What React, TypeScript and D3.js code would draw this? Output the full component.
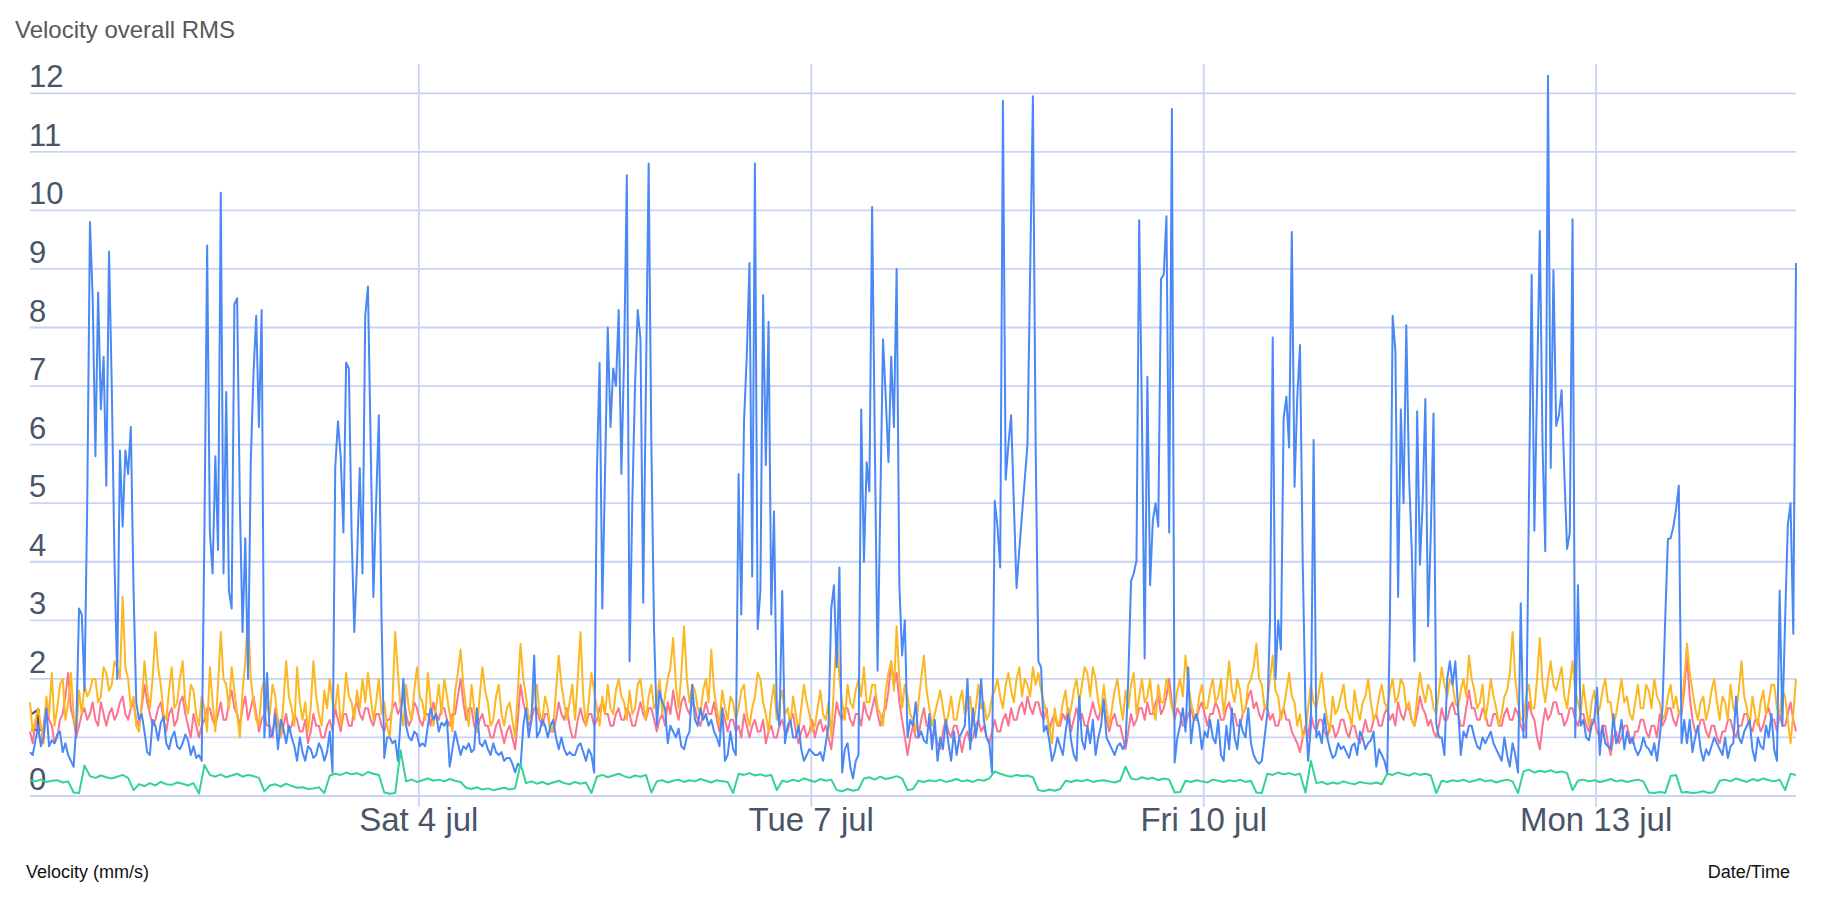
import React, { useEffect, useRef } from "react";
import * as d3 from "d3";

// first sample; every series is sampled every 30 min, except green (hourly)
const START = new Date(2020, 6, 1, 0, 40);
const HOUR = 3600 * 1000;
const SPAN_HOURS = 324;

const yTicks = [0, 1, 2, 3, 4, 5, 6, 7, 8, 9, 10, 11, 12];

const blueVelocity = [
  0.75, 0.7, 0.95, 1.2, 0.85, 1.0, 1.5, 0.85, 0.95, 0.9, 1.05, 1.1, 0.75, 0.9, 0.7, 0.6, 0.5, 1.2,
  3.2, 3.1, 1.8, 5.0, 9.8, 8.5, 5.8, 8.6, 6.6, 7.5, 5.3, 9.3, 7.0, 4.0, 2.0, 5.9, 4.6, 5.9, 5.5, 6.3, 3.5, 1.6, 1.3,
  1.4, 1.1, 0.75, 0.7, 1.3, 1.2, 0.95, 1.25, 1.35, 0.9, 0.8, 1.0, 1.1, 0.85, 0.8, 0.9, 1.05, 0.95, 0.7, 0.85, 0.65, 0.7,
  0.6, 4.5, 9.4, 4.5, 3.8, 5.8, 4.2, 10.3, 3.8, 6.9, 3.5, 3.2, 8.4, 8.5, 5.0, 2.8, 4.4, 2.0, 5.7, 7.2, 8.2, 6.3, 8.3, 1.0, 2.1, 1.0,
  1.05, 1.4, 0.8, 1.3, 1.15, 0.9, 1.2, 1.0, 0.85, 0.6, 1.0, 0.75, 0.6, 0.85, 0.8, 0.65, 0.7, 0.9, 0.8, 0.6, 0.75, 1.1,
  0.4, 5.6, 6.4, 5.8, 4.5, 7.4, 7.3, 4.5, 2.8, 4.0, 5.6, 3.8, 8.2, 8.7, 6.0, 3.4, 5.0, 6.5, 3.0, 0.65, 1.0,
  1.0, 0.9, 0.95, 0.6, 1.3, 2.0, 1.2, 1.0, 0.95, 1.1,
  1.05, 0.85, 0.9, 0.85, 1.2, 1.5, 1.3, 1.4, 1.1, 1.25,
  1.2, 1.3, 0.5, 0.8, 1.1, 0.9, 0.7, 0.85, 0.8, 0.9,
  0.75, 0.8, 1.5, 0.9, 0.85, 0.95, 0.8, 0.7, 0.9, 0.75,
  0.7, 0.75, 0.6, 0.65, 0.65, 0.55, 0.4, 0.55, 0.5, 1.2,
  1.5, 1.0, 1.3, 2.4, 1.0, 1.1, 1.3, 1.2, 1.0, 1.2,
  1.3, 1.0, 0.8, 1.0, 0.8, 0.7, 0.75, 0.7, 0.7, 0.85,
  0.9, 0.75, 0.6, 0.8, 0.7,
  0.4, 5.5, 7.4, 3.2, 5.5, 8.0, 6.3, 7.3, 7.0, 8.3, 5.5, 7.5, 10.6, 2.3, 5.0, 7.0, 8.3, 7.8, 3.3, 7.0, 10.8, 6.0, 2.8, 1.2,
  1.8, 1.6, 1.5, 0.9, 1.2, 1.1, 1.0, 1.15, 0.85, 0.8, 1.0, 1.1, 1.9, 1.3, 1.2, 1.5, 1.3, 1.4, 1.2, 1.3, 1.1, 1.0, 0.85, 1.5, 0.6, 0.7, 1.1, 0.8, 0.7,
  5.5, 3.1, 6.4, 7.5, 9.1, 3.75, 10.8, 2.85, 3.5, 8.55, 5.65, 8.1, 3.1, 4.86, 1.5, 1.2, 3.5, 0.9,
  1.2, 1.3, 1.0, 1.0, 1.2, 0.8, 0.6, 0.7, 0.8, 0.75, 0.7, 0.7, 0.75, 0.6, 0.9,
  1.2, 3.2, 3.6, 2.2, 3.9, 0.4, 0.8, 0.9, 0.5, 0.3, 0.6, 0.7,
  6.6, 4.0, 5.7, 5.2, 10.06, 6.0, 2.14, 5.0, 7.8, 6.8, 5.7, 7.5, 6.3, 9.0, 3.6, 2.4, 3.0, 1.0,
  1.3, 1.2, 1.6, 1.0, 1.1, 0.95, 0.9, 1.4, 0.8, 1.3, 0.6, 1.0, 0.8, 1.3, 0.9, 0.6, 1.1, 0.7, 1.0, 1.1, 1.2, 2.0, 0.8, 1.5, 1.0, 1.3, 2.0, 1.3, 1.0, 0.9,
  0.4, 5.04, 4.6, 3.9, 11.87, 5.4, 6.0, 6.5, 5.0, 3.55, 4.2, 4.8, 5.4, 6.0, 9.0, 11.95, 6.0, 2.3, 2.2, 1.1,
  1.2, 0.95, 0.6, 0.75, 1.0, 0.85, 0.7, 1.1, 1.4, 0.95, 0.7, 0.6, 1.7, 0.95, 0.8, 1.2, 0.9, 1.3, 0.7, 1.0, 1.2, 1.65, 1.0, 0.9, 0.8, 0.7, 0.85, 0.9,
  0.8, 0.9, 2.0, 3.67, 3.8, 4.02, 9.83, 6.5, 2.35, 7.16, 3.6, 4.7, 5.0, 4.6, 8.83, 8.9, 9.9, 4.5, 11.73, 0.57, 1.0,
  1.2, 1.5, 1.1, 2.2, 0.9, 1.3, 1.4, 1.2, 0.8, 1.1, 1.0, 1.3, 1.0, 0.9, 1.3, 0.7, 0.6, 1.2, 0.8, 1.5, 1.0, 0.8, 1.3, 1.1, 1.0, 1.5, 0.9, 0.7, 0.6, 0.55, 0.6,
  1.0, 1.4, 3.0, 7.83, 2.0, 3.0, 2.5, 6.45, 6.82, 5.95, 9.63, 5.28, 6.8, 7.7, 4.0, 1.5, 0.6, 1.2, 6.08, 1.0,
  1.1, 0.9, 1.4, 1.0, 0.8, 0.65, 0.7, 0.9, 0.8, 0.85, 0.75, 0.65, 0.85, 0.9, 0.7, 1.1, 1.0, 0.8, 0.9, 0.95, 1.1, 0.5, 0.8, 0.7, 0.6,
  0.4, 3.0, 8.2, 7.6, 3.4, 6.6, 5.0, 8.04, 5.5, 4.2, 2.3, 6.57, 3.95, 5.0, 6.78, 2.9, 4.5, 6.53, 1.24, 1.0,
  1.0, 0.7, 2.0, 2.3, 1.9, 2.3, 1.5, 0.7, 1.1, 1.0, 1.2, 1.2, 1.0, 0.85, 0.8, 1.0, 0.9, 1.0, 1.1, 0.9, 0.8, 0.7, 0.6, 1.0, 0.7, 0.5, 0.9, 0.7, 0.4,
  3.29, 1.0, 1.0, 5.0, 8.9, 4.53, 7.0, 9.65, 6.0, 4.18, 12.3, 5.6, 8.98, 6.32, 6.5, 6.93, 5.5, 4.22, 4.5, 9.85, 1.0, 3.6, 1.2,
  1.3, 1.0, 0.95, 1.2, 1.3, 1.85, 0.7, 1.2, 0.9, 0.85, 0.8, 1.4, 0.9, 1.0, 1.3, 0.8, 1.1, 0.9, 1.0, 0.8, 0.7, 0.8, 1.0, 0.85, 0.8, 0.7, 0.9, 0.6, 1.0,
  1.5, 3.0, 4.39, 4.4, 4.6, 4.9, 5.3, 0.9,
  1.3, 0.9, 1.3, 0.75, 1.0, 1.2, 0.8, 0.6, 0.8, 0.7, 0.85, 1.0, 0.9, 0.8, 0.7, 1.0, 0.65, 0.85, 0.9, 1.7, 1.0, 0.9, 1.1, 1.2, 1.3, 0.8, 0.6, 1.0, 0.85, 0.8, 1.2, 1.0, 1.4, 0.8, 0.6,
  3.51, 1.2, 3.0, 4.63, 5.0, 2.77, 9.1,
];

const orangeVelocity = [
  1.6, 1.1, 1.3, 1.5, 1.2, 0.9, 1.7, 1.4, 2.1, 1.2, 1.5, 1.9, 2.0, 1.3, 1.6, 2.1, 1.4, 1.1, 1.8, 1.4,
  1.9, 1.7, 1.8, 2.0, 2.0, 1.6, 1.7, 2.2, 2.1, 1.8, 1.9, 2.3, 2.2, 2.0, 3.4, 2.2, 2.0, 1.5, 1.7, 1.2,
  1.1, 1.6, 2.3, 1.8, 1.5, 2.0, 2.8, 2.2, 1.9, 1.4, 1.3, 1.8, 2.2, 1.5, 1.6, 2.0, 2.3, 1.6, 1.4, 1.9,
  1.8, 1.4, 1.2, 1.7, 1.5, 1.1, 2.2, 1.6, 1.1, 1.9, 2.8, 2.0, 1.9, 1.5, 2.2, 1.8, 1.4, 1.0, 1.8, 2.3,
  3.1, 2.0, 1.6, 1.3, 1.2, 1.8, 2.0, 1.5, 1.4, 1.9, 1.7, 1.2, 1.0, 1.6, 2.3, 1.7, 1.5, 1.2, 2.2, 1.6,
  1.3, 1.6, 1.1, 1.5, 2.3, 1.7, 1.4, 1.2, 1.8, 1.5, 2.0, 1.6, 1.5, 1.9, 1.2, 1.5, 2.1, 1.7, 1.6, 1.3,
  1.8, 1.5, 2.0, 1.6, 2.1, 1.7, 1.3, 1.6, 2.0, 1.4, 1.6, 1.2, 1.0, 1.6, 2.8, 2.1, 1.5, 1.2, 1.9, 1.5,
  1.3, 1.8, 2.2, 1.7, 1.6, 1.3, 2.1, 1.6, 1.2, 1.5, 1.9, 1.4, 2.0, 1.7, 1.4, 1.1, 1.8, 2.1, 2.5, 1.9,
  1.5, 1.2, 1.9, 1.5, 1.1, 1.7, 2.2, 1.8, 1.6, 1.2, 1.3, 1.7, 1.9, 1.4, 1.2, 1.5, 1.6, 1.3, 1.0, 1.8,
  2.6, 2.0, 1.7, 1.3, 1.4, 1.8, 1.9, 1.4, 1.3, 1.7, 1.5, 1.1, 1.2, 1.8, 2.4, 1.9, 1.6, 1.3, 1.6, 1.9,
  1.3, 2.0, 2.8, 1.7, 1.2, 1.6, 2.1, 1.8, 1.5, 1.2, 1.7, 1.4, 1.9, 1.5, 1.4, 1.8, 2.0, 1.7, 1.6, 1.3,
  1.8, 1.4, 1.5, 1.9, 2.0, 1.6, 1.3, 1.7, 1.9, 1.5, 1.6, 2.0, 1.4, 1.7, 2.0, 2.2, 2.7, 1.9, 1.5, 2.1,
  2.9, 2.0, 1.6, 1.9, 1.8, 1.5, 1.4, 1.8, 2.0, 1.6, 2.5, 1.8, 1.5, 1.2, 1.8, 1.5, 1.3, 1.7, 1.6, 1.3,
  1.5, 1.8, 1.9, 1.4, 1.2, 1.5, 1.7, 2.1, 2.0, 1.6, 1.4, 1.1, 1.6, 1.9, 1.3, 1.6, 1.8, 1.4, 1.5, 1.2,
  1.7, 1.4, 1.1, 1.5, 1.9, 1.6, 1.4, 1.1, 1.2, 1.5, 1.8, 1.4, 1.3, 1.6, 1.0, 1.9, 2.8, 2.0, 1.6, 1.3,
  1.9, 1.6, 1.5, 1.8, 2.0, 1.7, 2.2, 1.6, 1.6, 1.9, 1.9, 1.5, 1.4, 1.2, 1.8, 2.1, 2.3, 1.8, 2.9, 2.0,
  1.5, 1.9, 1.7, 1.4, 1.3, 1.1, 1.6, 2.0, 2.4, 1.8, 1.5, 1.2, 1.4, 1.6, 1.8, 1.5, 1.2, 1.4, 1.7, 1.3,
  1.3, 1.6, 1.8, 1.4, 1.5, 1.7, 1.2, 1.5, 1.9, 1.5, 1.6, 1.3, 1.4, 1.7, 1.8, 2.0, 1.7, 1.5, 1.9, 2.1,
  1.8, 1.6, 2.0, 2.2, 1.7, 2.0, 1.9, 1.7, 2.2, 1.9, 2.1, 1.8, 1.6, 1.4, 1.2, 0.9, 1.5, 1.2, 1.3, 1.6,
  1.8, 1.3, 1.5, 1.8, 2.0, 1.6, 1.9, 2.2, 2.1, 1.7, 2.2, 2.0, 1.6, 1.4, 1.9, 1.5, 1.2, 1.5, 1.8, 2.0,
  1.6, 1.3, 1.8, 1.5, 1.9, 2.1, 1.4, 1.7, 2.0, 1.6, 1.7, 2.0, 1.5, 1.3, 1.9, 1.6, 1.6, 2.0, 1.8, 1.5,
  1.5, 1.8, 2.0, 1.7, 2.4, 1.9, 1.6, 1.4, 1.3, 1.7, 1.9, 1.5, 1.5, 1.8, 2.0, 1.6, 1.7, 2.0, 1.4, 1.8,
  2.3, 1.8, 1.6, 2.0, 1.8, 1.4, 1.5, 1.9, 2.0, 2.2, 2.6, 2.0, 1.9, 1.5, 1.6, 2.0, 2.4, 1.8, 1.7, 1.3,
  1.5, 1.8, 2.1, 1.7, 1.6, 1.2, 1.4, 1.0, 1.1, 1.5, 1.9, 1.6, 1.5, 1.8, 2.1, 1.6, 1.3, 1.1, 1.7, 1.4,
  1.5, 1.7, 1.9, 1.5, 1.4, 1.2, 1.8, 1.5, 1.3, 1.6, 1.7, 2.0, 1.6, 1.3, 1.4, 1.7, 1.9, 1.6, 1.5, 1.8,
  2.0, 1.6, 1.7, 2.0, 1.9, 1.5, 1.6, 1.3, 1.2, 1.7, 2.1, 1.8, 1.6, 1.9, 1.8, 1.5, 1.4, 1.8, 2.2, 1.9,
  1.7, 2.0, 1.9, 1.6, 1.5, 1.8, 2.0, 1.7, 2.4, 2.0, 1.8, 1.5, 1.6, 1.9, 1.3, 1.6, 2.0, 1.7, 1.5, 1.2,
  1.4, 1.7, 1.8, 2.1, 2.8, 2.0, 1.6, 1.3, 1.3, 1.7, 1.9, 1.5, 1.5, 2.0, 2.7, 1.9, 1.6, 2.0, 2.3, 1.9,
  1.8, 2.0, 2.2, 1.7, 1.5, 1.9, 2.3, 1.8, 1.6, 1.4, 1.9, 1.5, 1.2, 1.6, 1.8, 1.4, 1.5, 1.8, 2.0, 1.6,
  1.6, 1.2, 1.4, 1.7, 2.0, 1.6, 1.7, 1.4, 1.3, 1.6, 1.9, 1.5, 1.5, 1.9, 1.8, 1.5, 2.0, 1.7, 1.6, 1.3,
  1.4, 1.7, 1.9, 1.5, 1.7, 1.4, 1.5, 2.0, 2.6, 2.1, 1.8, 1.5, 1.3, 1.6, 1.7, 1.3, 1.5, 1.8, 2.0, 1.6,
  1.3, 1.7, 1.6, 1.3, 1.9, 1.5, 1.4, 1.8, 2.3, 1.7, 1.5, 1.2, 1.7, 1.4, 1.2, 1.6, 1.8, 1.4, 1.6, 1.9,
  1.9, 1.5, 1.4, 1.8, 1.7, 1.3, 0.9, 1.4, 2.0,
];

const pinkVelocity = [
  1.1, 0.9, 1.3, 1.1, 0.9, 1.2, 1.6, 1.3, 1.2, 0.9, 1.0, 1.3, 1.4, 1.7, 2.1, 1.5, 1.3, 1.0, 1.2, 1.4,
  1.5, 1.3, 1.4, 1.6, 1.3, 1.2, 1.6, 1.4, 1.2, 1.4, 1.5, 1.3, 1.4, 1.6, 1.7, 1.4, 1.3, 1.5, 1.6, 1.3,
  1.2, 1.5, 1.9, 1.6, 1.4, 1.2, 1.3, 1.5, 1.6, 1.3, 1.1, 1.4, 1.5, 1.2, 1.3, 1.6, 1.7, 1.4, 1.2, 1.0,
  1.4, 1.2, 1.0, 1.2, 1.3, 1.5, 1.5, 1.3, 1.2, 1.4, 1.6, 1.3, 1.3, 1.6, 1.8, 1.5, 1.4, 1.2, 1.5, 1.7,
  1.3, 1.5, 1.7, 1.4, 1.1, 1.3, 1.4, 1.2, 1.2, 1.0, 1.5, 1.3, 1.0, 1.2, 1.4, 1.1, 1.2, 1.4, 1.3, 1.1,
  1.1, 1.3, 0.9, 1.1, 1.4, 1.2, 1.2, 1.0, 1.0, 1.2, 1.3, 1.1, 1.5, 1.3, 1.1, 1.4, 1.4, 1.2, 1.2, 1.5,
  1.6, 1.4, 1.3, 1.5, 1.5, 1.3, 1.2, 1.4, 1.4, 1.2, 1.1, 1.3, 1.3, 1.5, 1.6, 1.4, 1.5, 1.7, 1.4, 1.2,
  1.3, 1.6, 1.5, 1.3, 1.2, 1.4, 1.4, 1.2, 1.6, 1.4, 1.3, 1.5, 1.5, 1.3, 1.2, 1.4, 1.4, 1.7, 2.0, 1.6,
  1.3, 1.5, 1.5, 1.2, 1.1, 1.3, 1.4, 1.2, 1.2, 1.0, 1.0, 1.2, 1.3, 1.1, 0.9, 1.1, 1.2, 1.0, 0.8, 1.3,
  1.9, 1.6, 1.4, 1.2, 1.3, 1.5, 1.5, 1.3, 1.2, 1.4, 1.4, 1.1, 1.1, 1.3, 1.6, 1.4, 1.3, 1.5, 1.2, 1.0,
  1.0, 1.3, 1.5, 1.3, 1.2, 1.4, 1.4, 1.2, 1.3, 1.5, 1.6, 1.4, 1.4, 1.2, 1.2, 1.4, 1.5, 1.3, 1.3, 1.5,
  1.4, 1.2, 1.2, 1.4, 1.6, 1.4, 1.3, 1.5, 1.5, 1.3, 1.1, 1.3, 1.4, 1.2, 1.6, 1.4, 1.8, 1.5, 1.3, 1.6,
  1.7, 1.5, 1.4, 1.6, 1.5, 1.3, 1.2, 1.4, 1.6, 1.4, 1.4, 1.6, 1.3, 1.1, 1.5, 1.3, 1.1, 1.3, 1.3, 1.1,
  1.2, 1.0, 1.4, 1.2, 1.0, 1.2, 1.3, 1.1, 1.1, 1.3, 0.9, 1.1, 1.2, 1.0, 1.0, 1.2, 1.3, 1.1, 1.1, 1.3,
  1.4, 1.1, 0.9, 1.1, 1.2, 1.0, 1.1, 1.3, 1.0, 1.2, 1.3, 1.1, 1.2, 1.0, 0.8, 1.2, 1.6, 1.4, 1.3, 1.5,
  1.5, 1.3, 1.2, 1.4, 1.4, 1.2, 1.6, 1.4, 1.3, 1.5, 1.7, 1.4, 1.2, 1.4, 1.5, 1.8, 2.3, 1.9, 2.1, 1.6,
  1.3, 1.0, 0.7, 1.0, 1.2, 1.0, 1.0, 1.3, 1.5, 1.2, 1.2, 1.0, 1.1, 0.9, 0.8, 1.1, 1.3, 1.1, 1.0, 1.2,
  1.2, 1.0, 0.75, 1.0, 1.1, 0.9, 1.0, 1.2, 1.3, 1.1, 1.2, 1.0, 0.9, 1.1, 1.3, 1.1, 1.1, 1.3, 1.4, 1.2,
  1.5, 1.3, 1.3, 1.5, 1.6, 1.4, 1.7, 1.5, 1.4, 1.6, 1.6, 1.4, 1.3, 1.5, 1.1, 1.3, 1.4, 1.2, 1.2, 1.4,
  1.3, 1.5, 1.1, 1.3, 1.5, 1.3, 1.4, 1.2, 1.2, 1.4, 1.6, 1.4, 1.3, 1.5, 1.5, 1.3, 1.1, 1.3, 1.4, 1.2,
  1.2, 1.0, 0.8, 1.1, 1.4, 1.2, 1.3, 1.5, 1.5, 1.3, 1.6, 1.4, 1.4, 1.6, 1.7, 1.4, 1.5, 1.7, 2.0, 1.6,
  1.3, 1.5, 1.4, 1.2, 1.2, 1.4, 1.5, 1.3, 1.3, 1.5, 1.6, 1.4, 1.2, 1.4, 1.4, 1.6, 1.5, 1.3, 1.3, 1.5,
  1.6, 1.4, 1.4, 1.2, 1.2, 1.4, 1.5, 1.7, 1.8, 1.5, 1.6, 1.4, 1.3, 1.5, 1.5, 1.3, 1.4, 1.2, 1.2, 1.4,
  1.5, 1.3, 1.3, 1.1, 1.0, 0.9, 0.75, 1.0, 1.2, 1.0, 1.4, 1.2, 1.1, 1.3, 1.3, 1.1, 1.0, 1.2, 1.2, 1.0,
  1.1, 1.3, 1.3, 1.1, 1.0, 1.2, 1.2, 1.0, 0.9, 1.1, 1.3, 1.1, 1.1, 1.3, 1.4, 1.2, 1.2, 1.4, 1.5, 1.3,
  1.4, 1.2, 1.6, 1.4, 1.3, 1.5, 1.5, 1.3, 1.2, 1.4, 1.7, 1.5, 1.4, 1.2, 1.3, 1.1, 1.0, 1.2, 1.5, 1.3,
  1.3, 1.5, 1.6, 1.4, 1.4, 1.2, 1.2, 1.5, 1.8, 1.5, 1.5, 1.3, 1.3, 1.5, 1.4, 1.2, 1.2, 1.4, 1.4, 1.2,
  1.2, 1.4, 1.5, 1.3, 1.3, 1.5, 1.4, 1.2, 1.1, 1.3, 1.6, 1.4, 1.3, 1.0, 0.8, 1.2, 1.5, 1.3, 1.4, 1.6,
  1.6, 1.4, 1.4, 1.2, 1.3, 1.5, 1.5, 1.3, 1.2, 1.4, 1.4, 1.2, 1.1, 1.3, 1.3, 1.1, 1.0, 1.2, 1.2, 0.9,
  0.7, 1.0, 1.1, 0.9, 1.0, 1.2, 1.2, 1.0, 0.9, 1.1, 1.1, 1.3, 1.3, 1.1, 1.0, 1.2, 1.2, 1.0, 1.4, 1.2,
  1.3, 1.5, 1.5, 1.3, 1.2, 1.4, 1.4, 1.8, 2.4, 1.7, 1.3, 1.1, 1.1, 1.3, 1.3, 1.1, 1.0, 1.2, 1.2, 1.0,
  0.9, 1.1, 1.1, 1.3, 1.3, 1.1, 1.0, 1.2, 1.2, 1.4, 1.4, 1.2, 1.1, 1.3, 1.3, 1.1, 1.2, 1.4, 1.5, 1.3,
  1.3, 1.1, 1.4, 1.2, 1.2, 1.4, 1.6, 1.3, 1.1,
];

const greenVelocity = [
  0.27, 0.25, 0.28, 0.24, 0.26, 0.27, 0.23, 0.25, 0.06, 0.05,
  0.52, 0.34, 0.31, 0.35, 0.32, 0.3, 0.33, 0.36, 0.31, 0.1,
  0.2, 0.17, 0.22, 0.18, 0.24, 0.2, 0.19, 0.23, 0.21, 0.18, 0.22, 0.04,
  0.53, 0.36, 0.33, 0.37, 0.32, 0.35, 0.38, 0.33, 0.36, 0.34, 0.31, 0.08,
  0.18, 0.2, 0.16, 0.21, 0.17, 0.14, 0.15, 0.12, 0.13, 0.15, 0.05,
  0.35, 0.38, 0.36, 0.4, 0.37, 0.39, 0.35, 0.41, 0.38, 0.36, 0.06, 0.04, 0.05,
  0.78, 0.25, 0.28, 0.24, 0.27, 0.3, 0.26, 0.28, 0.25, 0.29, 0.26, 0.24,
  0.14, 0.12, 0.15, 0.11, 0.13, 0.1, 0.12, 0.14, 0.11, 0.13, 0.55,
  0.22, 0.25, 0.21, 0.24, 0.2, 0.23, 0.26, 0.22, 0.2, 0.24, 0.21, 0.23, 0.05,
  0.33, 0.36, 0.32, 0.35, 0.38, 0.34, 0.31, 0.35, 0.33, 0.36, 0.06,
  0.25, 0.27, 0.23, 0.26, 0.28, 0.24, 0.27, 0.25, 0.29, 0.26, 0.23, 0.27, 0.25, 0.24, 0.05,
  0.38, 0.36, 0.39, 0.35, 0.37, 0.34, 0.36, 0.1,
  0.26, 0.24, 0.28, 0.25, 0.3, 0.27, 0.24, 0.29, 0.26, 0.28, 0.1, 0.08, 0.12, 0.09, 0.11,
  0.3, 0.32, 0.28, 0.33, 0.29, 0.31, 0.34, 0.3, 0.1, 0.12,
  0.26, 0.24, 0.27, 0.25, 0.28, 0.24, 0.26, 0.29, 0.25, 0.27, 0.24, 0.28, 0.26, 0.3,
  0.42, 0.38, 0.35, 0.33, 0.36, 0.34, 0.35, 0.32, 0.1, 0.08, 0.11, 0.09, 0.12,
  0.26, 0.24, 0.27, 0.25, 0.28, 0.24, 0.26, 0.27, 0.25, 0.23, 0.26, 0.5,
  0.3, 0.28, 0.32, 0.29, 0.31, 0.27, 0.3, 0.28, 0.06, 0.07,
  0.26, 0.24, 0.27, 0.25, 0.23, 0.28, 0.26, 0.24, 0.27, 0.25, 0.28, 0.24, 0.26, 0.06, 0.05,
  0.38, 0.36, 0.4, 0.37, 0.39, 0.36, 0.38, 0.06, 0.6,
  0.22, 0.24, 0.2, 0.23, 0.21, 0.25, 0.22, 0.2, 0.24, 0.22, 0.21, 0.23, 0.2,
  0.38, 0.36, 0.4, 0.37, 0.35, 0.39, 0.36, 0.38, 0.35, 0.05,
  0.26, 0.24, 0.27, 0.25, 0.28, 0.24, 0.26, 0.29, 0.25, 0.27, 0.23, 0.26, 0.28, 0.25, 0.05,
  0.42, 0.45, 0.4, 0.43, 0.41, 0.44, 0.4, 0.42, 0.39, 0.1,
  0.26, 0.28, 0.25, 0.27, 0.24, 0.26, 0.29, 0.25, 0.27, 0.24, 0.26, 0.28, 0.25,
  0.06, 0.05, 0.07, 0.05, 0.34, 0.36, 0.06, 0.07, 0.05, 0.06, 0.08, 0.05, 0.07,
  0.26, 0.28, 0.25, 0.3, 0.27, 0.24, 0.29, 0.26, 0.3, 0.27, 0.25, 0.28, 0.1, 0.38, 0.36,
];

const series = [
  { name: "pink", values: pinkVelocity, stepMinutes: 30, color: "#fb7490" },
  { name: "orange", values: orangeVelocity, stepMinutes: 30, color: "#fcb823" },
  { name: "blue", values: blueVelocity, stepMinutes: 30, color: "#4a88f5" },
  { name: "green", values: greenVelocity, stepMinutes: 60, color: "#33d394" },
];

const W = 1832;
const H = 904;
const FONT = "'Liberation Sans', Arial, Helvetica, sans-serif";
const GRID = "#c9d4f3";
const LABEL = "#4a5568";

const App: React.FC = () => {
  const svgRef = useRef<SVGSVGElement | null>(null);

  useEffect(() => {
    if (!svgRef.current) return;
    const svg = d3.select(svgRef.current);
    svg.selectAll("*").remove();

    const x = d3
      .scaleTime()
      .domain([START, new Date(START.getTime() + SPAN_HOURS * HOUR)])
      .range([30, 1796]);
    const y = d3.scaleLinear().domain([0, 12.5]).range([796, 64]);

    svg
      .append("text")
      .attr("x", 15)
      .attr("y", 38)
      .attr("font-family", FONT)
      .attr("font-size", 24)
      .attr("fill", "#595959")
      .text("Velocity overall RMS");

    // horizontal grid + y labels
    const yg = svg.append("g");
    yg.selectAll("line")
      .data(yTicks)
      .enter()
      .append("line")
      .attr("x1", 30)
      .attr("x2", 1796)
      .attr("y1", (d) => y(d))
      .attr("y2", (d) => y(d))
      .attr("stroke", GRID)
      .attr("stroke-width", 1.8);
    yg.selectAll("text")
      .data(yTicks)
      .enter()
      .append("text")
      .attr("x", 29)
      .attr("y", (d) => y(d) - 6)
      .attr("font-family", FONT)
      .attr("font-size", 31)
      .attr("fill", LABEL)
      .text((d) => String(d));

    // vertical grid + x labels, one every 3 days
    const xTicks = x.ticks(d3.timeDay.every(3) as d3.TimeInterval);
    const dayFmt = d3.timeFormat("%a %-d");
    const monFmt = d3.timeFormat("%b");
    const xg = svg.append("g");
    xg.selectAll("line")
      .data(xTicks)
      .enter()
      .append("line")
      .attr("x1", (d) => x(d))
      .attr("x2", (d) => x(d))
      .attr("y1", 64)
      .attr("y2", 807)
      .attr("stroke", GRID)
      .attr("stroke-width", 1.8);
    xg.selectAll("text")
      .data(xTicks)
      .enter()
      .append("text")
      .attr("x", (d) => x(d))
      .attr("y", 831)
      .attr("text-anchor", "middle")
      .attr("font-family", FONT)
      .attr("font-size", 33)
      .attr("fill", LABEL)
      .text((d) => `${dayFmt(d)} ${monFmt(d).toLowerCase()}`);

    // data lines
    const line = d3
      .line<{ t: Date; v: number }>()
      .x((d) => x(d.t))
      .y((d) => y(d.v));

    series.forEach((s) => {
      const pts = s.values.map((v, i) => ({
        t: new Date(START.getTime() + i * s.stepMinutes * 60 * 1000),
        v,
      }));
      svg
        .append("path")
        .datum(pts)
        .attr("d", line)
        .attr("fill", "none")
        .attr("stroke", s.color)
        .attr("stroke-width", 2)
        .attr("stroke-linejoin", "round");
    });

    svg
      .append("text")
      .attr("x", 26)
      .attr("y", 878)
      .attr("font-family", FONT)
      .attr("font-size", 18)
      .attr("fill", "#111")
      .text("Velocity (mm/s)");

    svg
      .append("text")
      .attr("x", 1790)
      .attr("y", 878)
      .attr("text-anchor", "end")
      .attr("font-family", FONT)
      .attr("font-size", 18)
      .attr("fill", "#111")
      .text("Date/Time");
  }, []);

  return (
    <svg
      ref={svgRef}
      width={W}
      height={H}
      style={{ position: "absolute", left: 0, top: 0, background: "#fff" }}
    />
  );
};

export default App;
